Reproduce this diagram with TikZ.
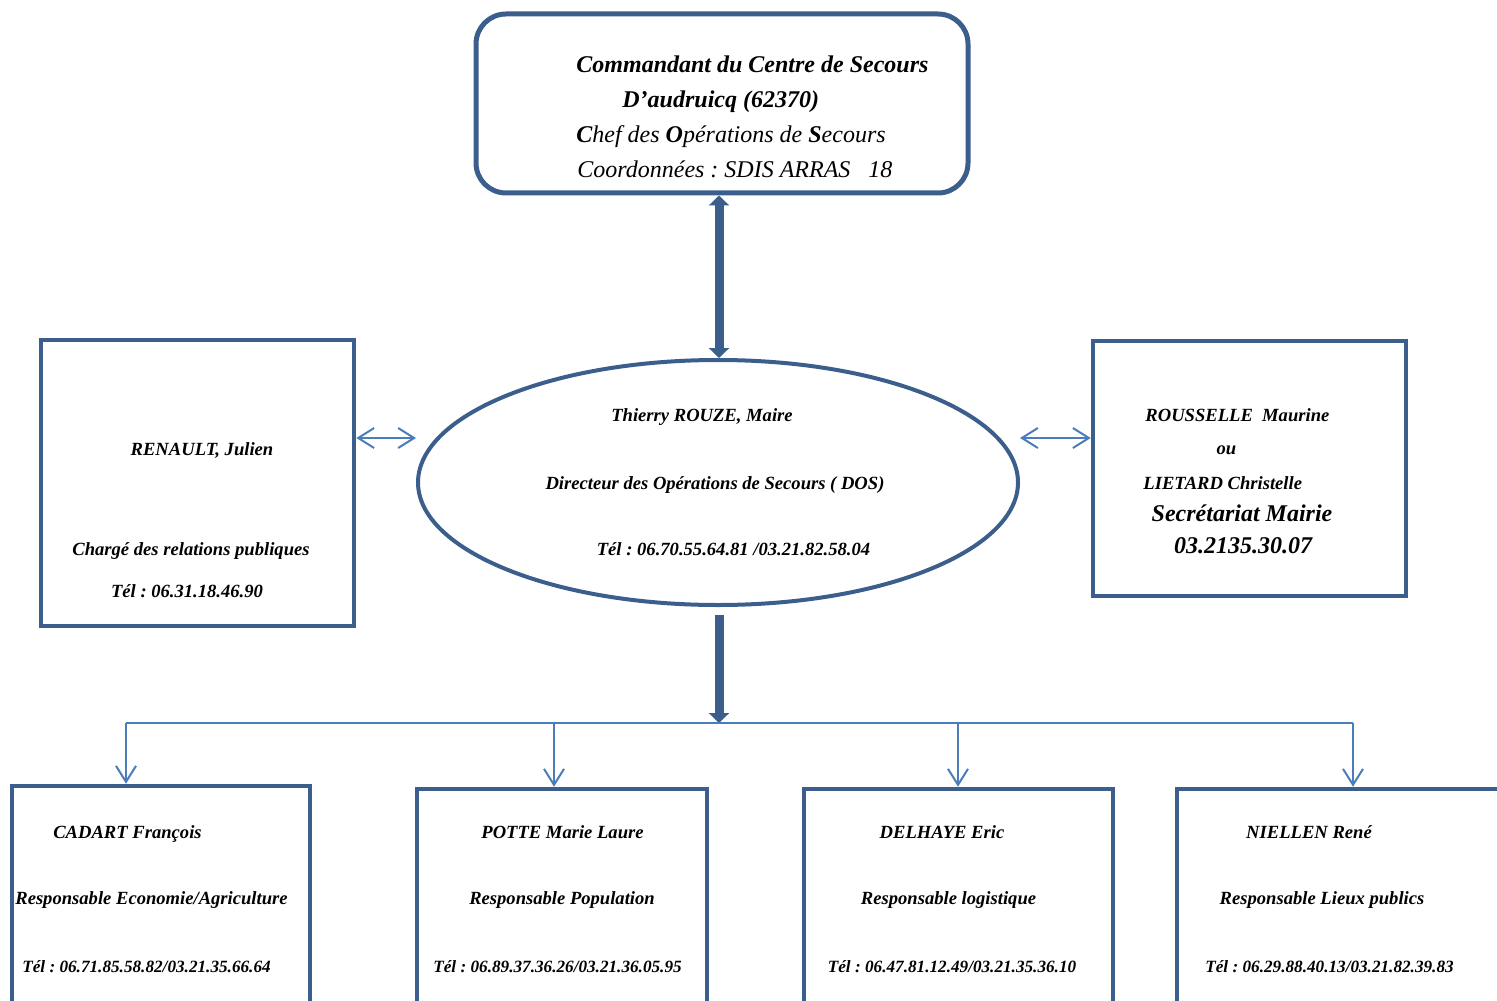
\documentclass[tikz,border=0pt]{standalone}
\usepackage{fontspec}
\setmainfont{Liberation Serif}
\usepackage{tikz}
\usepackage{xcolor}
\usetikzlibrary{shapes.geometric}
\usetikzlibrary{arrows.meta}

\definecolor{cadre}{HTML}{3B5E8C}
\definecolor{trait}{HTML}{4A7DBA}

\tikzset{pointe/.tip = {Triangle[length=5pt,width=10pt]},
	ouvert/.tip = {Straight Barb[length=8pt,width=10pt]}}

\frenchspacing
\begin{document}
\begin{tikzpicture}
	[x=0.5pt, y=-0.5pt,
	boite/.style = {draw=cadre, line width=2.25pt, rectangle, inner sep=0pt},
	txt/.style = {font=\bfseries\itshape\fontsize{9.3}{11}\selectfont, inner sep=0pt, anchor=base},
	tel/.style = {txt, font=\bfseries\itshape\fontsize{8.6}{10}\selectfont},
	haut/.style = {font=\itshape\fontsize{12}{14}\selectfont, inner sep=0pt, anchor=base west},
	gros/.style = {draw=cadre, line width=4.5pt},
	fleche/.style = {draw=trait, line width=1pt}]
	\useasboundingbox (0,0) rectangle (1497,1000);
	\clip (0,0) rectangle (1497,1000);

	% boites
	\node[boite, rounded corners=15pt, line width=2.5pt, minimum width=246pt, minimum height=89.5pt] (cos) at (722,103.5) {};
	\node[draw=cadre, line width=2pt, ellipse, inner sep=0pt, minimum width=300pt, minimum height=122.5pt] (dos) at (718,482.5) {};
	\node[boite, minimum width=156.5pt, minimum height=143pt] (renault) at (197.5,483) {};
	\node[boite, minimum width=156.5pt, minimum height=127.5pt] (rousselle) at (1249.5,468.5) {};
	\node[boite, minimum width=149pt, minimum height=113pt] (cadart) at (161,899) {};
	\node[boite, minimum width=145pt, minimum height=111.5pt] (potte) at (562,900.5) {};
	\node[boite, minimum width=154.5pt, minimum height=111.5pt] (delhaye) at (958.5,900.5) {};
	\node[boite, minimum width=176.5pt, minimum height=111.5pt] (niellen) at (1353.5,900.5) {};

	% textes
	\node[haut, font=\bfseries\itshape\fontsize{12}{14}\selectfont] (cos1) at (576,73) {Commandant du Centre de Secours};
	\node[haut, font=\bfseries\itshape\fontsize{12}{14}\selectfont] (cos2) at (622,108) {D’audruicq (62370)};
	\node[haut] (cos3) at (576,143) {\textbf{C}hef des \textbf{O}pérations de \textbf{S}ecours};
	\node[haut] (cos4) at (577,178) {Coordonnées : SDIS ARRAS\ \ \ 18};

	\node[txt] (dos1) at (702,421) {Thierry ROUZE, Maire};
	\node[txt] (dos2) at (715,489) {Directeur des Opérations de Secours ( DOS)};
	\node[txt] (dos3) at (733.5,555) {Tél : 06.70.55.64.81 /03.21.82.58.04};

	\node[txt] (ren1) at (202,455) {RENAULT, Julien};
	\node[txt] (ren2) at (191,555) {Chargé des relations publiques};
	\node[txt] (ren3) at (187,597) {Tél : 06.31.18.46.90};

	\node[txt, anchor=base west] (rou1) at (1145,421) {ROUSSELLE\ \ Maurine};
	\node[txt] (rou2) at (1226.5,454) {ou};
	\node[txt, anchor=base west] (rou3) at (1143,489) {LIETARD Christelle};
	\node[txt, font=\bfseries\itshape\fontsize{12}{14}\selectfont] (rou4) at (1242,521) {Secrétariat Mairie};
	\node[txt, font=\bfseries\itshape\fontsize{12}{14}\selectfont] (rou5) at (1243,553) {03.2135.30.07};

	\node[txt] (cad1) at (127.5,838) {CADART François};
	\node[txt] (cad2) at (151.5,904) {Responsable Economie/Agriculture};
	\node[tel] (cad3) at (146.5,972) {Tél : 06.71.85.58.82/03.21.35.66.64};

	\node[txt] (pot1) at (562.5,838) {POTTE Marie Laure};
	\node[txt] (pot2) at (562,904) {Responsable Population};
	\node[tel] (pot3) at (557.5,972) {Tél : 06.89.37.36.26/03.21.36.05.95};

	\node[txt] (del1) at (942,838) {DELHAYE Eric};
	\node[txt] (del2) at (948.5,904) {Responsable logistique};
	\node[tel] (del3) at (952,972) {Tél : 06.47.81.12.49/03.21.35.36.10};

	\node[txt] (nie1) at (1309,838) {NIELLEN René};
	\node[txt] (nie2) at (1322,904) {Responsable Lieux publics};
	\node[tel] (nie3) at (1329.5,972) {Tél : 06.29.88.40.13/03.21.82.39.83};

	% liens
	\coordinate (g) at (0,438);
	\coordinate (bus) at (719,723);
	\coordinate (b1) at (126,723);
	\coordinate (b2) at (554,723);
	\coordinate (b3) at (958,723);
	\coordinate (b4) at (1353,723);

	\draw[gros, pointe-pointe] (cos.south -| bus) -- (dos.north -| bus);
	\draw[gros, -pointe, shorten <=4pt] (dos.south -| bus) -- (bus);
	\draw[fleche, ouvert-ouvert] (renault.east |- g) -- (dos.west |- g);
	\draw[fleche, ouvert-ouvert] (dos.east |- g) -- (rousselle.west |- g);
	\draw[fleche] (b1) -- (b4);
	\draw[fleche, -ouvert] (b1) -- (b1 |- cadart.north);
	\draw[fleche, -ouvert] (b2) -- (b2 |- potte.north);
	\draw[fleche, -ouvert] (b3) -- (b3 |- delhaye.north);
	\draw[fleche, -ouvert] (b4) -- (b4 |- niellen.north);
\end{tikzpicture}
\end{document}
